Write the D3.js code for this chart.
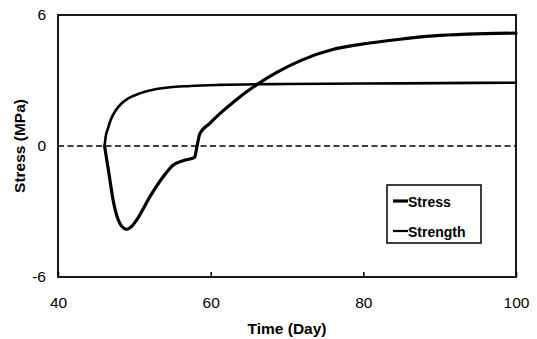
<!DOCTYPE html>
<html>
<head>
<meta charset="utf-8">
<script src="https://cdn.jsdelivr.net/npm/d3@7"></script>
<style>
  html, body { margin: 0; padding: 0; background: #fff; }
  svg { display: block; }
  text { font-family: Arial, "Liberation Sans", sans-serif; fill: #000; }
</style>
</head>
<body>
<svg id="chart" width="537" height="339"></svg>
<script>
// Time (day) and stress (MPa) for the two series
const stressDays = [46.1, 46.6, 47.3, 47.9, 48.4, 49.0, 49.6, 50.3, 52.05, 53.8, 55.1, 56.4, 57.9, 58.2, 58.6, 59.9, 61.2, 63.0, 66.0, 68.6, 71.7, 76.1, 79.2, 84.8, 89.2, 93.6, 100];
const stressVals = [0, -1.1, -2.62, -3.39, -3.7, -3.82, -3.7, -3.39, -2.32, -1.4, -0.87, -0.67, -0.52, -0.03, 0.58, 1.04, 1.48, 2.02, 2.8, 3.36, 3.9, 4.43, 4.63, 4.89, 5.04, 5.12, 5.17];

const strengthDays = [46.1, 46.25, 46.55, 46.9, 47.6, 48.35, 49.2, 50.7, 52.9, 57.3, 61.2, 70, 80, 90, 100];
const strengthVals = [0, 0.43, 0.81, 1.19, 1.65, 1.96, 2.18, 2.41, 2.61, 2.75, 2.8, 2.84, 2.86, 2.88, 2.9];

const xTicks = [40, 60, 80, 100];
const yTicks = [-6, 0, 6];
const seriesNames = ["Stress", "Strength"];

const margin = { left: 58, right: 21, top: 15, bottom: 62 };
const W = 537, H = 339;
const svg = d3.select("#chart");

const x = d3.scaleLinear().domain([40, 100]).range([margin.left, W - margin.right]);
const y = d3.scaleLinear().domain([-6, 6]).range([H - margin.bottom, margin.top]);

// zero reference line
svg.append("line")
  .attr("x1", x(40)).attr("x2", x(100))
  .attr("y1", y(0)).attr("y2", y(0))
  .attr("stroke", "#000").attr("stroke-width", 1.6)
  .attr("stroke-dasharray", "6,3.5");

const line = d3.line()
  .x(d => x(d[0])).y(d => y(d[1]))
  .curve(d3.curveMonotoneX);

const stress = stressDays.map((d, i) => [d, stressVals[i]]);
const strength = strengthDays.map((d, i) => [d, strengthVals[i]]);

svg.append("path").datum(strength)
  .attr("d", line).attr("fill", "none")
  .attr("stroke", "#000").attr("stroke-width", 2.6)
  .attr("stroke-linejoin", "round").attr("stroke-linecap", "round");

svg.append("path").datum(stress)
  .attr("d", line).attr("fill", "none")
  .attr("stroke", "#000").attr("stroke-width", 3.2)
  .attr("stroke-linejoin", "round").attr("stroke-linecap", "round");

// axes with inward ticks; labels use a plain hyphen for negatives
const fmt = d => String(d);
const xAxis = svg.append("g")
  .attr("transform", `translate(0,${y(-6)})`)
  .call(d3.axisBottom(x).tickValues(xTicks).tickSizeInner(-5).tickSizeOuter(0).tickPadding(20).tickFormat(fmt));
const yAxis = svg.append("g")
  .attr("transform", `translate(${x(40)},0)`)
  .call(d3.axisLeft(y).tickValues(yTicks).tickSize(0).tickPadding(12).tickFormat(fmt));

[xAxis, yAxis].forEach(g => {
  g.select(".domain").remove();
  g.selectAll("line").attr("stroke", "#000").attr("stroke-width", 1.5);
  g.selectAll("text").style("font-family", "Arial, 'Liberation Sans', sans-serif").style("font-size", "15.5px").attr("fill", "#000");
});

// plot frame
svg.append("rect")
  .attr("x", x(40)).attr("y", y(6))
  .attr("width", x(100) - x(40)).attr("height", y(-6) - y(6))
  .attr("fill", "none").attr("stroke", "#000").attr("stroke-width", 1.8);

// axis titles
svg.append("text")
  .attr("x", (x(40) + x(100)) / 2).attr("y", 334)
  .attr("text-anchor", "middle")
  .style("font-size", "15.5px").style("font-weight", "bold")
  .text("Time (Day)");

svg.append("text")
  .attr("transform", `translate(25,${(y(6) + y(-6)) / 2}) rotate(-90)`)
  .attr("text-anchor", "middle")
  .style("font-size", "15.5px").style("font-weight", "bold")
  .text("Stress (MPa)");

// legend
const legend = svg.append("g").attr("transform", "translate(387,185)");
legend.append("rect")
  .attr("width", 94).attr("height", 58)
  .attr("fill", "#fff").attr("stroke", "#000").attr("stroke-width", 1.5);
const legendWidths = [3.2, 2.2];
seriesNames.forEach((name, i) => {
  const ly = 16 + i * 30;
  legend.append("line")
    .attr("x1", 6).attr("x2", 21).attr("y1", ly).attr("y2", ly)
    .attr("stroke", "#000").attr("stroke-width", legendWidths[i]);
  legend.append("text")
    .attr("x", 21).attr("y", ly + 5.5)
    .style("font-size", "14px").style("font-weight", "bold")
    .text(name);
});
</script>
</body>
</html>
